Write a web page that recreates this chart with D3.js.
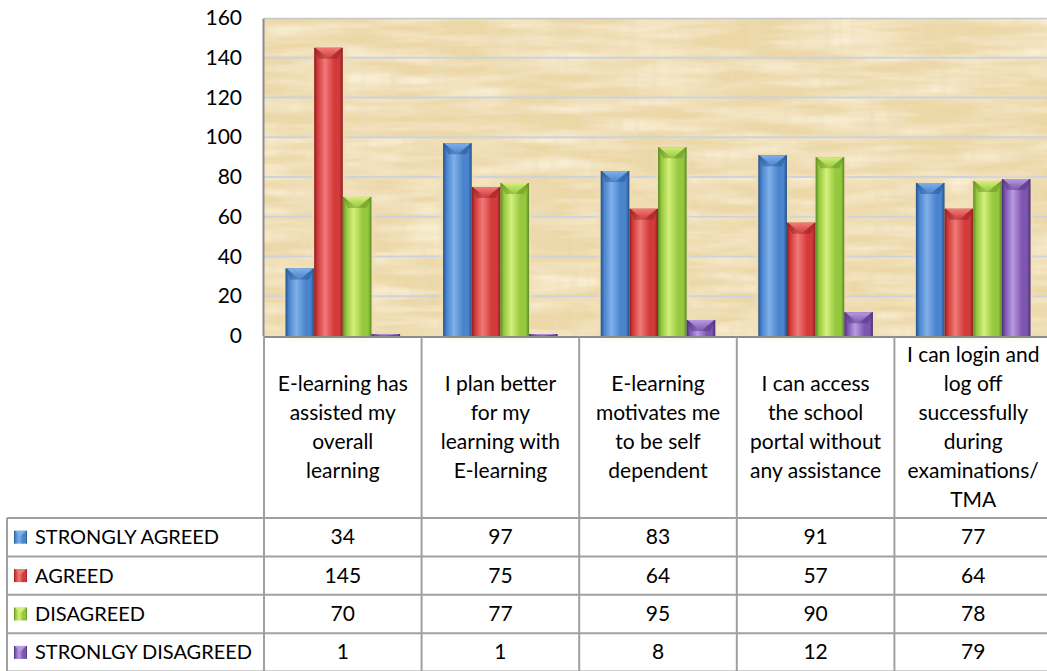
<!DOCTYPE html>
<html>
<head>
<meta charset="utf-8">
<script src="https://cdn.jsdelivr.net/npm/d3@7"></script>
<style>
  html, body { margin: 0; padding: 0; background: #fff; }
  svg { display: block; font-family: Lato, "Open Sans", sans-serif; }
</style>
</head>
<body>
<svg width="1047" height="671"></svg>
<script>
// Chart data
const categories = [
  "E-learning has assisted my overall learning",
  "I plan better for my learning with E-learning",
  "E-learning motivates me to be self dependent",
  "I can access the school portal without any assistance",
  "I can login and log off successfully during examinations/ TMA"
];
// wrapped labels as they appear in the table header
const categoryLines = [
  ["E-learning has", "assisted my", "overall", "learning"],
  ["I plan better", "for my", "learning with", "E-learning"],
  ["E-learning", "motivates me", "to be self", "dependent"],
  ["I can access", "the school", "portal without", "any assistance"],
  ["I can login and", "log off", "successfully", "during", "examinations/", "TMA"]
];
const seriesNames = ["STRONGLY AGREED", "AGREED", "DISAGREED", "STRONLGY DISAGREED"];
const stronglyAgreed = [34, 97, 83, 91, 77];
const agreed = [145, 75, 64, 57, 64];
const disagreed = [70, 77, 95, 90, 78];
const stronglyDisagreed = [1, 1, 8, 12, 79];
const yTicks = [0, 20, 40, 60, 80, 100, 120, 140, 160];

const seriesValues = [stronglyAgreed, agreed, disagreed, stronglyDisagreed];
const seriesColors = [
  { dark: "#24508a", mid: "#4a84cc", light: "#7fb0ea" },
  { dark: "#8a1f1f", mid: "#d33a3a", light: "#f07a78" },
  { dark: "#5e8a22", mid: "#95c83e", light: "#d4f07a" },
  { dark: "#4c2e78", mid: "#7e56b0", light: "#b89be0" }
];

const width = 1047, height = 671;
const plotLeft = 264, plotRight = 1052, plotTop = 18, plotBottom = 336;
const tableLeft = 7;
const headerBottom = 518, rowH = 38.4;
const fontSize = 21;

const svg = d3.select("svg");
const defs = svg.append("defs");

// papyrus-like texture
const tex = defs.append("filter").attr("id", "papyrus")
  .attr("x", 0).attr("y", 0).attr("width", "100%").attr("height", "100%");
tex.append("feTurbulence").attr("type", "fractalNoise")
  .attr("baseFrequency", "0.01 0.08").attr("numOctaves", 3).attr("seed", 4).attr("result", "n1");
tex.append("feColorMatrix").attr("in", "n1").attr("type", "matrix")
  .attr("values", "0 0 0 0 0.98  0 0 0 0 0.91  0 0 0 0 0.74  0 0 0 -1.6 1.05").attr("result", "c1");
tex.append("feTurbulence").attr("type", "fractalNoise")
  .attr("baseFrequency", "0.1 0.012").attr("numOctaves", 2).attr("seed", 9).attr("result", "n2");
tex.append("feColorMatrix").attr("in", "n2").attr("type", "matrix")
  .attr("values", "0 0 0 0 0.84  0 0 0 0 0.72  0 0 0 0 0.48  0 0 0 -1.4 0.8").attr("result", "c2");
tex.append("feMerge").call(m => {
  m.append("feMergeNode").attr("in", "SourceGraphic");
  m.append("feMergeNode").attr("in", "c1");
  m.append("feMergeNode").attr("in", "c2");
});

const glow = defs.append("filter").attr("id", "glow")
  .attr("x", "-50%").attr("y", "-20%").attr("width", "200%").attr("height", "140%");
glow.append("feGaussianBlur").attr("stdDeviation", 3);

seriesColors.forEach((c, i) => {
  const g = defs.append("linearGradient").attr("id", "bar" + i)
    .attr("x1", 0).attr("x2", 1).attr("y1", 0).attr("y2", 0);
  g.append("stop").attr("offset", "0%").attr("stop-color", c.dark);
  g.append("stop").attr("offset", "12%").attr("stop-color", c.mid);
  g.append("stop").attr("offset", "38%").attr("stop-color", c.light).attr("stop-opacity", 1);
  g.append("stop").attr("offset", "70%").attr("stop-color", c.mid);
  g.append("stop").attr("offset", "88%").attr("stop-color", c.mid);
  g.append("stop").attr("offset", "100%").attr("stop-color", c.dark);
  const t = defs.append("linearGradient").attr("id", "top" + i)
    .attr("x1", 0).attr("x2", 0).attr("y1", 0).attr("y2", 1);
  t.append("stop").attr("offset", "0%").attr("stop-color", c.light);
  t.append("stop").attr("offset", "100%").attr("stop-color", c.mid);
});

// Scales
const x = d3.scaleBand().domain(categories).range([plotLeft, plotRight]);
const xs = d3.scaleBand().domain(seriesNames).range([0, x.bandwidth()])
  .paddingInner(0).paddingOuter(0.75);
const y = d3.scaleLinear().domain([0, 160]).range([plotBottom, plotTop]);

// Plot background
svg.append("rect")
  .attr("x", plotLeft).attr("y", plotTop)
  .attr("width", plotRight - plotLeft).attr("height", plotBottom - plotTop)
  .attr("fill", "#ecd7a6").attr("filter", "url(#papyrus)");
svg.append("line")
  .attr("x1", plotLeft).attr("x2", plotRight).attr("y1", plotTop + 0.5).attr("y2", plotTop + 0.5)
  .attr("stroke", "#c8c8c8").attr("stroke-width", 1.5);

// Gridlines
svg.append("g")
  .selectAll("line")
  .data(yTicks.filter(d => d > 0 && d < 160))
  .join("line")
  .attr("x1", plotLeft).attr("x2", plotRight)
  .attr("y1", d => y(d)).attr("y2", d => y(d))
  .attr("stroke", "#ccd3dc").attr("stroke-width", 2);

// Y axis
const yAxis = svg.append("g")
  .attr("transform", `translate(${plotLeft - 1},0)`)
  .call(d3.axisLeft(y).tickValues(yTicks).tickSize(0).tickPadding(21));
yAxis.select(".domain").attr("stroke", "#8c8c8c").attr("stroke-width", 2);
yAxis.selectAll("text").attr("font-size", fontSize).attr("fill", "#000")
  .attr("font-family", "Lato, sans-serif");

// Bars
const rows = categories.flatMap((c, ci) =>
  seriesNames.map((s, si) => ({ cat: c, ser: s, si, v: seriesValues[si][ci] })));

const barG = svg.append("g");
rows.forEach(d => {
  const bx = x(d.cat) + xs(d.ser), bw = xs.bandwidth();
  const by = y(d.v), bh = plotBottom - by;
  // soft halo in background colour
  barG.append("rect")
    .attr("x", bx - 2).attr("y", by - 2).attr("width", bw + 4).attr("height", bh + 2)
    .attr("fill", "#f0ddb4").attr("opacity", 0.9).attr("filter", "url(#glow)");
});
rows.forEach(d => {
  const bx = x(d.cat) + xs(d.ser), bw = xs.bandwidth();
  const by = y(d.v), bh = plotBottom - by;
  barG.append("rect")
    .attr("x", bx).attr("y", by).attr("width", bw).attr("height", bh)
    .attr("fill", `url(#bar${d.si})`);
  const th = Math.min(11, bh);
  if (th > 1) {
    const inset = Math.min(5, bw / 4);
    barG.append("path")
      .attr("d", `M${bx},${by} L${bx + bw},${by} L${bx + bw - inset},${by + th} L${bx + inset},${by + th} Z`)
      .attr("fill", seriesColors[d.si].dark).attr("opacity", 0.45);
    barG.append("path")
      .attr("d", `M${bx + 1},${by} L${bx + bw - 1},${by} L${bx + bw / 2},${by + th} Z`)
      .attr("fill", `url(#top${d.si})`);
  }
});

// Data table
const lineColor = "#a0a0a0";
const table = svg.append("g");

// header row label cells
categories.forEach((c, ci) => {
  const cx = x(c) + x.bandwidth() / 2;
  const lines = categoryLines[ci];
  const lh = 29;
  const mid = (plotBottom + headerBottom) / 2;
  const t = table.append("text")
    .attr("text-anchor", "middle").attr("font-size", fontSize).attr("fill", "#000");
  lines.forEach((ln, li) => {
    t.append("tspan").attr("x", cx)
      .attr("y", mid + (li - (lines.length - 1) / 2) * lh + 7)
      .text(ln);
  });
});

// value rows
seriesNames.forEach((s, si) => {
  const ry = headerBottom + si * rowH;
  const key = table.append("g");
  key.append("rect")
    .attr("x", 14).attr("y", ry + rowH / 2 - 6.5).attr("width", 13).attr("height", 13)
    .attr("fill", `url(#bar${si})`);
  key.append("path")
    .attr("d", `M15,${ry + rowH / 2 - 6.5} L26,${ry + rowH / 2 - 6.5} L20.5,${ry + rowH / 2 - 1} Z`)
    .attr("fill", seriesColors[si].light);
  table.append("text")
    .attr("x", 35).attr("y", ry + rowH / 2 + 7)
    .attr("font-size", 20).attr("fill", "#000")
    .text(s);
  categories.forEach((c, ci) => {
    table.append("text")
      .attr("x", x(c) + x.bandwidth() / 2).attr("y", ry + rowH / 2 + 7)
      .attr("text-anchor", "middle").attr("font-size", fontSize).attr("fill", "#000")
      .text(seriesValues[si][ci]);
  });
});

// grid lines of the table
const tableBottom = headerBottom + seriesNames.length * rowH;
table.append("line")
  .attr("x1", plotLeft).attr("x2", width).attr("y1", plotBottom + 1).attr("y2", plotBottom + 1)
  .attr("stroke", "#8c8c8c").attr("stroke-width", 2);
d3.range(seriesNames.length + 1).forEach(i => {
  const ly = headerBottom + i * rowH;
  table.append("line")
    .attr("x1", tableLeft).attr("x2", width).attr("y1", ly).attr("y2", ly)
    .attr("stroke", lineColor).attr("stroke-width", 2);
});
table.append("line")
  .attr("x1", tableLeft).attr("x2", tableLeft).attr("y1", headerBottom).attr("y2", tableBottom)
  .attr("stroke", lineColor).attr("stroke-width", 2);
categories.forEach(c => {
  table.append("line")
    .attr("x1", x(c)).attr("x2", x(c)).attr("y1", plotBottom + 1).attr("y2", tableBottom)
    .attr("stroke", lineColor).attr("stroke-width", 2);
});
</script>
</body>
</html>
